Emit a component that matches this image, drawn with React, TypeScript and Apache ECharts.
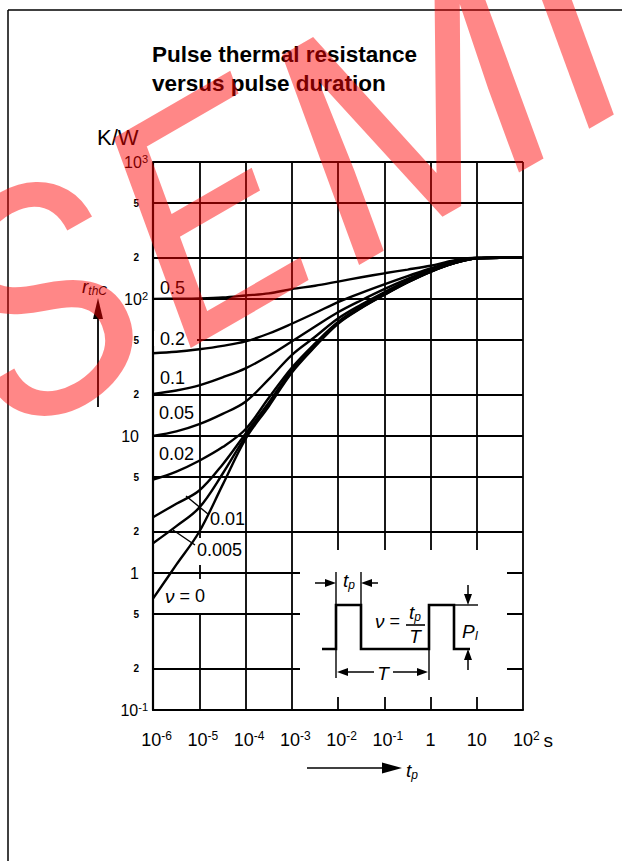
import React, { useEffect, useRef } from 'react';
import * as echarts from 'echarts';

// ---------- data ----------
const pulseDurations = [1e-6, 3.2e-6, 1e-5, 3.2e-5, 1e-4, 3.2e-4, 1e-3, 3.2e-3, 1e-2, 3.2e-2, 1e-1, 3.2e-1, 1, 3.2, 10, 32, 100];
const dutyCycles = ['0.5', '0.2', '0.1', '0.05', '0.02', '0.01', '0.005', '0'];
const rNu05 = [100.2, 100.5, 101, 102.5, 106, 110, 118, 125, 134, 144, 154, 164, 175, 191, 200, 200, 200];
const rNu02 = [40.2, 41.2, 43, 45.5, 49, 56, 66, 79, 95, 111, 128, 147, 167, 188, 199, 200, 200];
const rNu01 = [20.3, 21.5, 23.4, 26.8, 31.2, 38.5, 49, 63, 80, 98, 118, 140, 163, 186, 199, 200, 200];
const rNu005 = [10, 10.8, 12.2, 14.5, 17.8, 26, 39, 53, 72, 91, 112, 136, 160, 184, 198.5, 200, 200];
const rNu002 = [4.8, 5.5, 6.6, 8.3, 11.2, 19.0, 31.5, 47.5, 68, 88, 109, 133.5, 159, 183, 198, 200, 200];
const rNu001 = [2.55, 3.2, 4.0, 6.2, 10.4, 17.6, 30.2, 46, 67, 87, 108, 133, 158.5, 182.5, 198, 200, 200];
const rNu0005 = [1.65, 2.2, 3.0, 5.3, 9.9, 17.0, 29.5, 45.5, 66.5, 86.5, 107.5, 132.5, 158, 182, 198, 200, 200];
const rNu0 = [0.65, 1.15, 2.0, 4.4, 9.5, 16.5, 29, 45, 66, 86, 107, 132, 158, 182, 198, 200, 200];
const curveValues = [rNu05, rNu02, rNu01, rNu005, rNu002, rNu001, rNu0005, rNu0];

const xTickValues = [1e-6, 1e-5, 1e-4, 1e-3, 1e-2, 1e-1, 1, 10, 100];
const xTickLabels = ['10^-6', '10^-5', '10^-4', '10^-3', '10^-2', '10^-1', '1', '10', '10^2 s'];
const yTickValues = [0.1, 0.2, 0.5, 1, 2, 5, 10, 20, 50, 100, 200, 500, 1000];
const yTickLabels = ['10^-1', '2', '5', '1', '2', '5', '10', '2', '5', '10^2', '2', '5', '10^3'];

const titleLines = ['Pulse thermal resistance', 'versus pulse duration'];
const yUnit = 'K/W';
const watermarkLetters = ['S', 'E', 'M', 'I'];

// ---------- layout (pixels) ----------
const FONT = "'Liberation Sans', Arial, Helvetica, sans-serif";
const nuLabelPos: [number, number][] = [
  [160, 288], [160, 339], [160, 378], [159, 413], [159, 454], [210, 519], [197, 550], [165, 596],
];
const watermarkPos: [number, number][] = [[40, 305], [204, 218], [412, 112], [562, 22]];

const xLog = xTickValues.map((v) => Math.log10(v));
const yLog = yTickValues.map((v) => Math.log10(v));

function nearestIndex(arr: number[], v: number) {
  let best = 0;
  for (let i = 1; i < arr.length; i++) if (Math.abs(arr[i] - v) < Math.abs(arr[best] - v)) best = i;
  return best;
}

function xLabel(value: number) {
  const lab = xTickLabels[nearestIndex(xLog, value)];
  const [main, unit] = lab.split(' ');
  if (main.includes('^')) {
    const [b, e] = main.split('^');
    if (unit) return `{padu| }{b|${b}}{sup|${e}}{u|${unit}}`;
    return `{pad| }{b|${b}}{sup|${e}}`;
  }
  return `{b|${main}}`;
}

function yLabel(value: number) {
  const lab = yTickLabels[nearestIndex(yLog, value)];
  if (lab.includes('^')) {
    const [b, e] = lab.split('^');
    return `{b|${b}}{sup|${e}}`;
  }
  if (lab === '2' || lab === '5') return `{s|${lab}}{rp| }`;
  return `{b|${lab}}{rp| }`;
}

const line = (x1: number, y1: number, x2: number, y2: number, w = 2.2, z = 5) => ({
  type: 'line', z, silent: true, shape: { x1, y1, x2, y2 }, style: { stroke: '#000', lineWidth: w },
});
const tri = (points: number[][], z = 5) => ({
  type: 'polygon', z, silent: true, shape: { points }, style: { fill: '#000' },
});
const txt = (x: number, y: number, text: string, extra: any = {}) => ({
  type: 'text', z: 6, silent: true, x, y,
  style: { text, fill: '#000', fontFamily: FONT, fontSize: 18, align: 'left', verticalAlign: 'middle', ...extra },
});
const mask = (x: number, y: number, width: number, height: number, z = 1) => ({
  type: 'rect', z, silent: true, shape: { x, y, width, height }, style: { fill: '#fff' },
});

const italicRich = {
  i: { fontFamily: FONT, fontStyle: 'italic', fontSize: 19, color: '#000' },
  sub: { fontFamily: FONT, fontStyle: 'italic', fontSize: 12, color: '#000', verticalAlign: 'bottom', lineHeight: 22 },
  r: { fontFamily: FONT, fontSize: 18, color: '#000' },
};

export default function App() {
  const ref = useRef<HTMLDivElement>(null);
  useEffect(() => {
    if (!ref.current) return;
    const chart = echarts.init(ref.current, undefined, { renderer: 'svg' });

    const series = curveValues.map((vals, k) => ({
      name: dutyCycles[k],
      type: 'line',
      data: pulseDurations.map((t, i) => [Math.log10(t), Math.log10(vals[i])]),
      smooth: 0.35,
      symbol: 'none',
      z: 3,
      silent: true,
      lineStyle: { color: '#000', width: 2.4 },
    }));

    const graphic: any[] = [
      // page frame
      line(8, 10, 622, 10, 1.5),
      line(8, 10, 8, 861, 1.5),
      // title
      txt(152, 54, titleLines[0], { fontWeight: 'bold', fontSize: 22.5 }),
      txt(152, 83, titleLines[1], { fontWeight: 'bold', fontSize: 22.5 }),
      // unit
      txt(97, 137, yUnit, { fontSize: 22 }),
      // r_thC with arrow
      txt(82, 286, '{i|r}{sub|thC}', { rich: italicRich }),
      line(98, 407, 98, 314, 1.8),
      tri([[98, 298], [93, 319], [103, 319]]),
      // t_p arrow under x axis
      line(307, 768, 386, 768, 1.6),
      tri([[402, 768], [382, 762.5], [382, 773.5]]),
      txt(406, 770, '{i|t}{sub|p}', { rich: italicRich }),
      // masks behind labels
      mask(154, 331, 43, 15),
      mask(196, 538, 5, 27),
      mask(196, 579, 5, 34),
      // inset white box
      mask(300, 550, 207, 147),
      // leader lines
      line(186, 496, 208, 514, 1.4),
      line(173, 530, 195, 545, 1.4),
      // pulse diagram
      {
        type: 'polyline', z: 5, silent: true,
        shape: { points: [[322, 649], [336, 649], [336, 605], [361, 605], [361, 649], [429, 649], [429, 605], [454, 605], [454, 649], [470, 649]] },
        style: { stroke: '#000', lineWidth: 2.6, fill: 'none' },
      },
      line(336, 572, 336, 605, 1.4),
      line(336, 649, 336, 678, 1.4),
      line(361, 572, 361, 605, 1.4),
      line(429, 649, 429, 680, 1.4),
      line(454, 605, 478, 605, 1.4),
      // t_p arrows
      line(315, 583, 328, 583, 1.5),
      tri([[336, 583], [325, 579], [325, 587]]),
      line(378, 583, 369, 583, 1.5),
      tri([[361, 583], [372, 579], [372, 587]]),
      txt(343, 580, '{i|t}{sub|p}', { rich: italicRich }),
      // P arrows
      line(468, 585, 468, 596, 1.5),
      tri([[468, 605], [464, 594], [472, 594]]),
      line(468, 670, 468, 660, 1.5),
      tri([[468, 649], [464, 660], [472, 660]]),
      txt(462, 631, '{i|P}{sub|I}', { rich: italicRich }),
      // T arrow
      tri([[337, 672], [348, 668], [348, 676]]),
      line(348, 672, 374, 672, 1.5),
      line(393, 672, 418, 672, 1.5),
      tri([[428, 672], [417, 668], [417, 676]]),
      txt(383, 673, '{i|T}', { rich: italicRich, align: 'center' }),
      // nu = t_p / T
      txt(375, 621, '{i|ν}{r| =}', { rich: italicRich }),
      txt(415, 612, '{i|t}{sub|p}', { rich: italicRich, align: 'center' }),
      line(406, 625, 425, 625, 1.6),
      txt(415, 636, '{i|T}', { rich: italicRich, align: 'center' }),
    ];

    dutyCycles.forEach((d, k) => {
      const [x, y] = nuLabelPos[k];
      if (d === '0') graphic.push(txt(x, y, '{i|ν}{r| = 0}', { rich: italicRich }));
      else graphic.push(txt(x, y, d, { fontSize: 18 }));
    });

    // watermark letters
    watermarkLetters.forEach((ch, k) => {
      const [x, y] = watermarkPos[k];
      graphic.push({
        type: 'text', z: 100, silent: true, x, y, rotation: Math.PI / 6,
        style: {
          text: ch, fontFamily: "Roboto, 'Liberation Sans', sans-serif", fontWeight: 400, fontStyle: 'italic',
          fontSize: 310, fill: 'rgba(255,0,0,0.47)', align: 'center', verticalAlign: 'middle',
        },
      });
    });

    const axisRichX = {
      b: { fontFamily: FONT, fontSize: 18, color: '#000', lineHeight: 20 },
      sup: { fontFamily: FONT, fontSize: 12, color: '#000', lineHeight: 12, verticalAlign: 'top' },
      pad: { width: 7, fontSize: 12 },
      padu: { width: 20, fontSize: 12 },
      u: { fontFamily: FONT, fontSize: 19, color: '#000', lineHeight: 20, padding: [0, 0, 0, 4] },
    };
    const axisRichY = {
      b: { fontFamily: FONT, fontSize: 16, color: '#000', lineHeight: 18 },
      sup: { fontFamily: FONT, fontSize: 11, color: '#000', lineHeight: 11, verticalAlign: 'top' },
      s: { fontFamily: FONT, fontSize: 10, fontWeight: 'bold', color: '#000', lineHeight: 18 },
      rp: { width: 9, fontSize: 10 },
    };

    chart.setOption({
      animation: false,
      backgroundColor: '#fff',
      textStyle: { fontFamily: FONT },
      grid: { left: 153, right: 99, top: 162, bottom: 151, containLabel: false },
      xAxis: {
        type: 'value', min: -6, max: 2, interval: 1,
        axisLine: { show: true, onZero: false, lineStyle: { color: '#000', width: 2.2 } },
        axisTick: { show: false },
        splitLine: { show: true, lineStyle: { color: '#000', width: 1.8 } },
        axisLabel: { margin: 20, formatter: xLabel, rich: axisRichX, color: '#000' },
      },
      yAxis: {
        type: 'value', min: -1, max: 3,
        axisLine: { show: true, onZero: false, lineStyle: { color: '#000', width: 2.2 } },
        axisTick: { show: false, customValues: yLog },
        splitLine: { show: true, lineStyle: { color: '#000', width: 1.8 } },
        axisLabel: { margin: 5, customValues: yLog, formatter: yLabel, rich: axisRichY, color: '#000' },
      },
      series,
      graphic,
    });
    return () => chart.dispose();
  }, []);
  return <div ref={ref} style={{ position: 'fixed', left: 0, top: 0, width: 622, height: 861, background: '#fff' }} />;
}
